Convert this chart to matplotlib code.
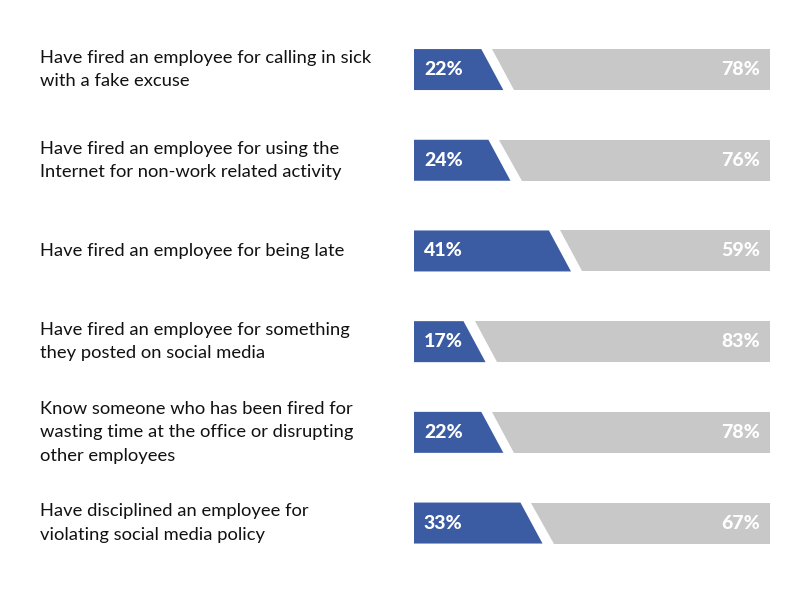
import matplotlib
matplotlib.use('agg')
import matplotlib.pyplot as plt
from matplotlib.patches import Polygon
import matplotlib.transforms as mtransforms

plt.rcParams['font.family'] = ['Lato', 'DejaVu Sans']

labels = [
    "Have fired an employee for calling in sick\nwith a fake excuse",
    "Have fired an employee for using the\nInternet for non-work related activity",
    "Have fired an employee for being late",
    "Have fired an employee for something\nthey posted on social media",
    "Know someone who has been fired for\nwasting time at the office or disrupting\nother employees",
    "Have disciplined an employee for\nviolating social media policy",
]
yes_pct = [22, 24, 41, 17, 22, 33]
no_pct = [78, 76, 59, 83, 78, 67]

blue = '#3b5ca3'
gray = '#c8c8c8'

fig = plt.figure(figsize=(8, 6), dpi=100)
ax = fig.add_axes([414 / 800, 1 - 568.4 / 600, 356 / 800, 544.2 / 600])
ax.set_xlim(0, 100)
ax.set_ylim(5.5, -0.5)
ax.axis('off')

h = 0.452
slant = 3.1
for i, (y, n) in enumerate(zip(yes_pct, no_pct)):
    top, bot = i - h / 2, i + h / 2
    ax.add_patch(Polygon([(0, top), (y - slant, top), (y + slant, bot), (0, bot)],
                         closed=True, facecolor=blue, edgecolor='none'))
    ax.add_patch(Polygon([(y, top), (100, top), (100, bot), (y + 2 * slant, bot)],
                         closed=True, facecolor=gray, edgecolor='none'))
    ax.text(2.8, i, f"{y}%", color='white', fontsize=14, fontweight='black',
            va='center', ha='left')
    ax.text(97.2, i, f"{n}%", color='white', fontsize=14, fontweight='black',
            va='center', ha='right')

trans = mtransforms.blended_transform_factory(fig.transFigure, ax.transData)
for i, lab in enumerate(labels):
    ax.text(40 / 800, i, lab, transform=trans, fontsize=13.2, color='#111111',
            va='center', ha='left', linespacing=1.57)

fig.savefig('out.png', dpi=100, facecolor='white')
